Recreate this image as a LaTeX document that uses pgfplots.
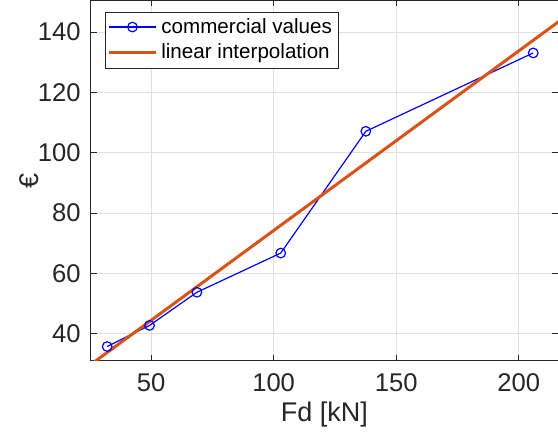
\documentclass[border=0pt]{standalone}
\usepackage{pgfplots}
\pgfplotsset{compat=1.18}
\usepackage{fontspec}
\setmainfont{Liberation Sans}

\definecolor{mlblue}{RGB}{0,0,255}
\definecolor{mlorange}{RGB}{217,83,25}
\definecolor{mltext}{RGB}{38,38,38}
\definecolor{mlgrid}{RGB}{223,223,223}

\begin{document}
\begin{tikzpicture}
\begin{axis}[
    name=ax,
    scale only axis,
    width=233.5pt,
    height=180pt,
    xmin=25.4, xmax=216,
    ymin=31, ymax=150.5,
    xtick={50,100,150,200},
    ytick={40,60,80,100,120,140},
    tick align=inside,
    major tick length=3pt,
    tick style={color=mltext, line width=0.4pt},
    axis line style={color=mltext, line width=0.5pt},
    grid=major,
    grid style={color=mlgrid, line width=0.4pt},
    /pgf/number format/assume math mode=true,
    ticklabel style={font=\fontsize{12.8}{15}\selectfont, color=mltext},
    xticklabel style={yshift=-3pt},
    yticklabel style={xshift=-1.5pt},
    xlabel={Fd [kN]},
    ylabel={€},
    label style={font=\fontsize{13.5}{16}\selectfont, color=mltext},
    xlabel style={at={(rel axis cs:0.5,0)}, anchor=center, yshift=-27pt},
    ylabel style={at={(rel axis cs:0,0.5)}, anchor=center, yshift=31pt},
    legend style={
        at={(rel axis cs:0.031,0.969)}, anchor=north west,
        font=\fontsize{10.3}{12.5}\selectfont,
        text=black,
        draw=mltext, line width=0.4pt,
        inner sep=1pt, row sep=0pt,
        cells={anchor=west},
    },
    legend image code/.code={
        \draw[#1] (0cm,0cm) -- (0.82cm,0cm);
        \draw[#1, only marks] plot coordinates {(0.41cm,0cm)};
    },
    clip=true,
]
\addplot[color=mlblue, line width=0.6pt, mark=o, mark size=2.4pt,
    mark options={line width=0.6pt}]
coordinates {
    (32.1,35.7)
    (49.4,42.7)
    (68.7,53.7)
    (102.9,66.7)
    (137.6,107.1)
    (205.9,133.1)
};
\addlegendentry{commercial values}

\addplot[color=mlorange, line width=1.5pt, mark=none]
coordinates {
    (20,26.5)
    (220,145.7)
};
\addlegendentry{linear interpolation}
\end{axis}
\pgfresetboundingbox
\path[use as bounding box] ([xshift=-45.35pt,yshift=-39pt]ax.south west)
    rectangle ([yshift=0.25pt]ax.north east);
\end{tikzpicture}
\end{document}
